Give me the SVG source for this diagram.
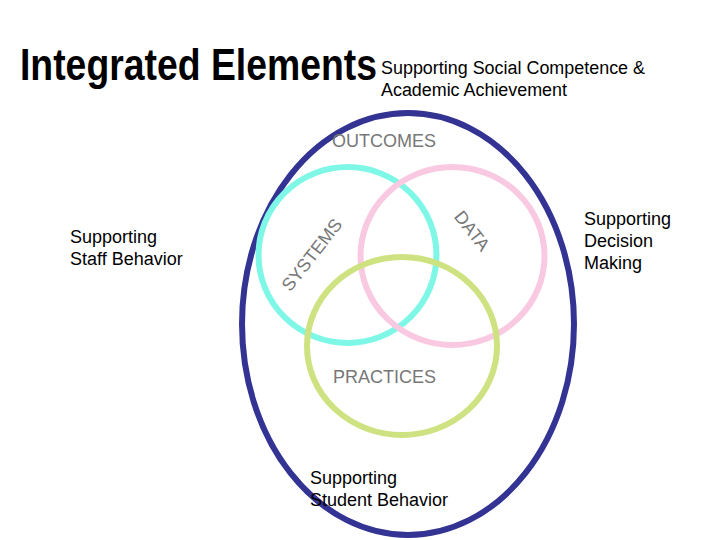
<svg xmlns="http://www.w3.org/2000/svg" width="720" height="540" viewBox="0 0 720 540">
<style>
.lbl{font-family:"Liberation Sans",Arial,sans-serif;font-size:18px;fill:#000}
.gray{font-family:"Liberation Sans",Arial,sans-serif;font-size:18px;fill:#777}
.ring{fill:none;stroke-width:6}
</style>
<rect width="720" height="540" fill="#fff"/>
<g id="title">
<text transform="translate(20 80) scale(0.83 1)" font-family="'Liberation Sans',Arial,sans-serif" font-weight="bold" font-size="45" fill="#000">Integrated Elements</text>
<text class="lbl" x="381" y="74" font-size="17" textLength="264" lengthAdjust="spacingAndGlyphs">Supporting Social Competence &amp;</text>
<text class="lbl" x="381" y="96" font-size="17" textLength="186" lengthAdjust="spacingAndGlyphs">Academic Achievement</text>
</g>
<g id="outcomes">
<ellipse class="ring" cx="408" cy="324" rx="166" ry="211" stroke="#333393"/>
<text class="gray" x="332" y="147">OUTCOMES</text>
</g>
<g id="systems">
<ellipse class="ring" cx="347.5" cy="255" rx="89" ry="88" stroke="#7ff7e6"/>
<text class="gray" text-anchor="middle" transform="translate(312 255) rotate(-52)" y="6">SYSTEMS</text>
</g>
<g id="data">
<ellipse class="ring" cx="452.5" cy="256" rx="92" ry="89" stroke="#f9c9e1"/>
<text class="gray" text-anchor="middle" transform="translate(472 231) rotate(52)" y="6">DATA</text>
</g>
<g id="practices">
<ellipse class="ring" cx="402" cy="346" rx="95" ry="89" stroke="#cfe281"/>
<text class="gray" x="333" y="383">PRACTICES</text>
</g>
<g id="staff">
<text class="lbl" x="70" y="243">Supporting</text>
<text class="lbl" x="70" y="265">Staff Behavior</text>
</g>
<g id="decision">
<text class="lbl" x="584" y="225">Supporting</text>
<text class="lbl" x="584" y="247">Decision</text>
<text class="lbl" x="584" y="269">Making</text>
</g>
<g id="student">
<text class="lbl" x="310" y="484">Supporting</text>
<text class="lbl" x="310" y="506">Student Behavior</text>
</g>
<g id="connectors"/>
</svg>
